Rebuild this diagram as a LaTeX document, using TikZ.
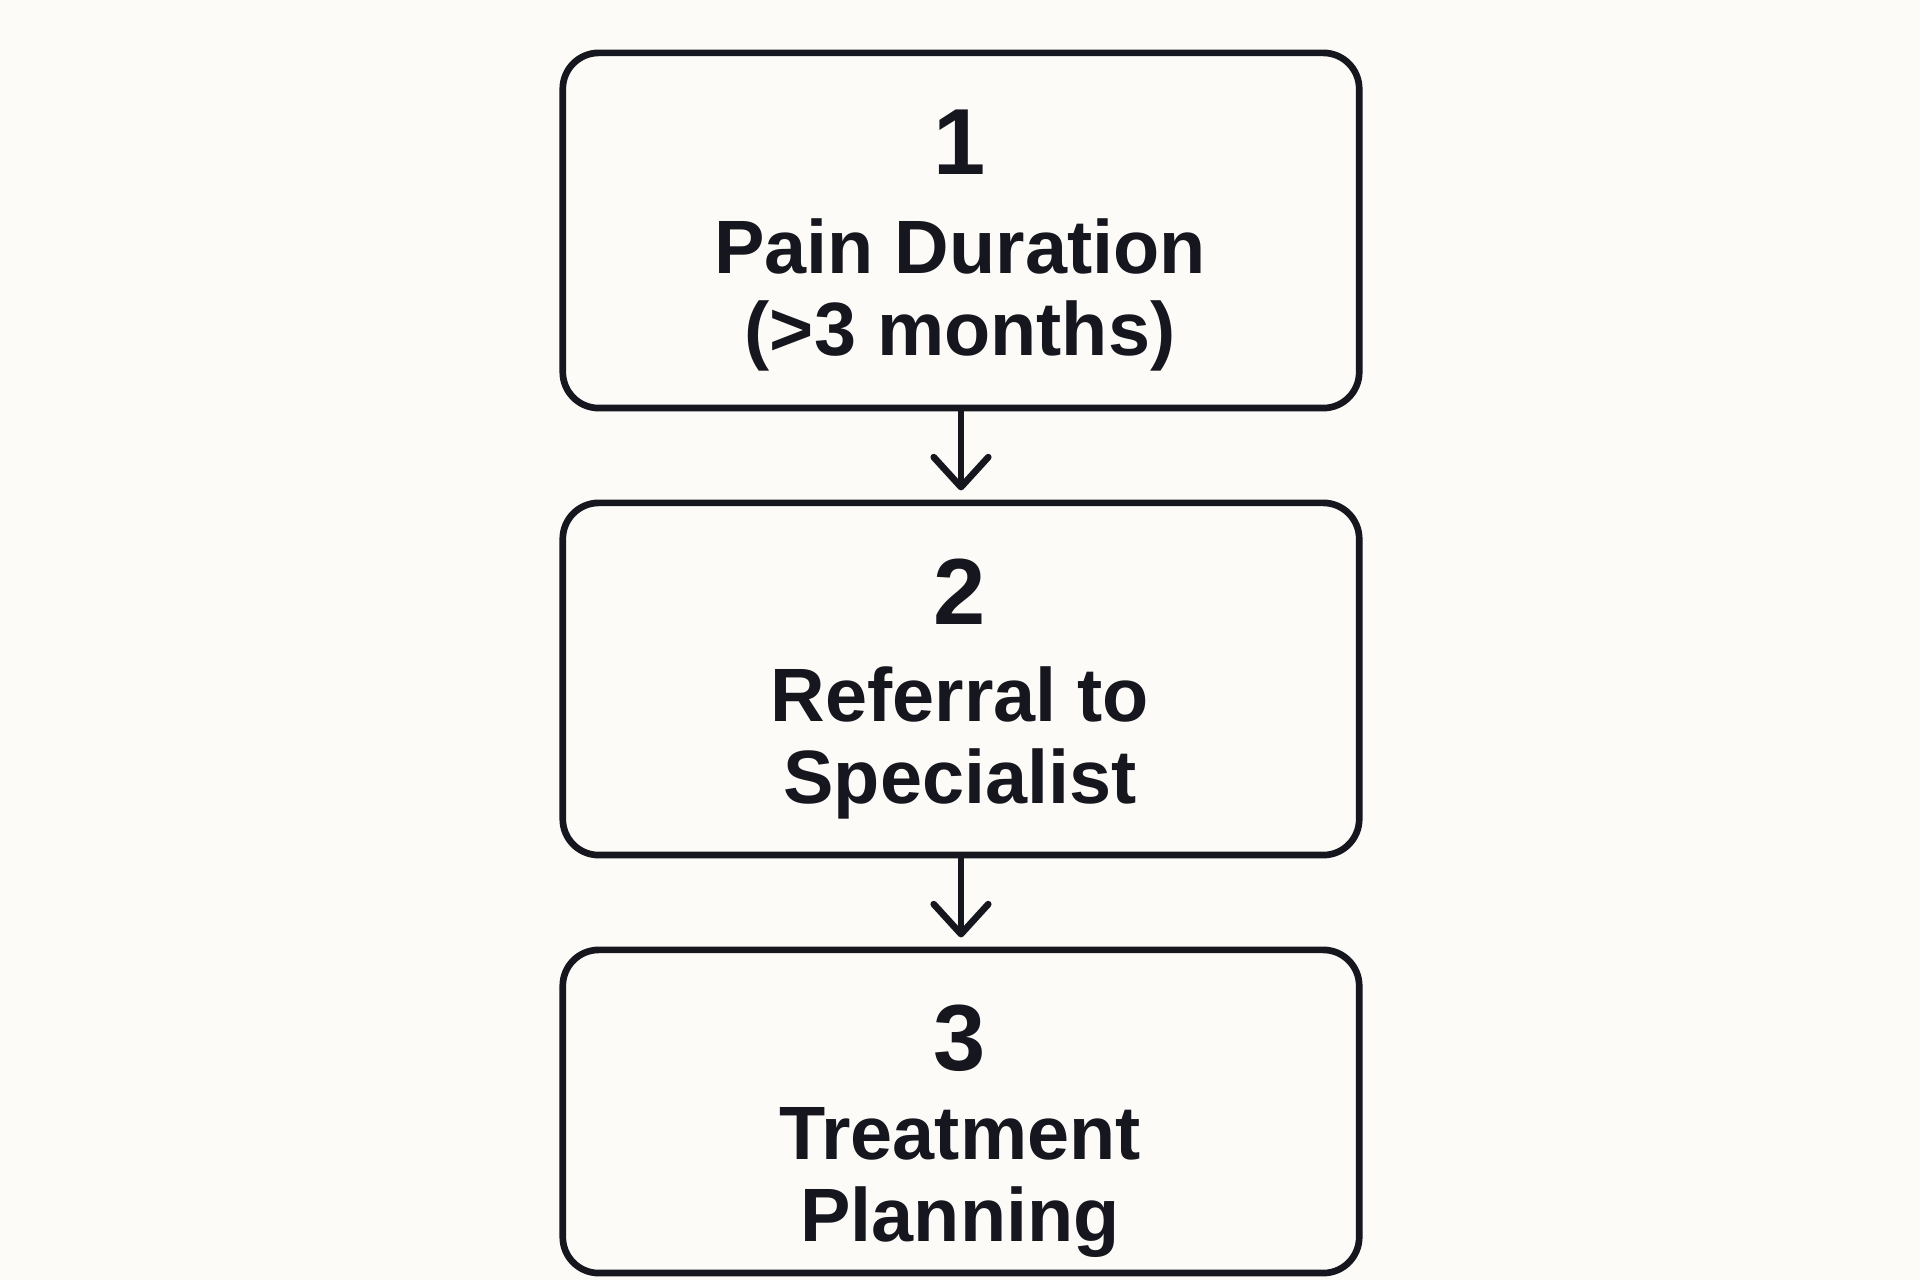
\documentclass[tikz,border=0pt]{standalone}
\usepackage{fontspec}
\setmainfont{Liberation Sans}
\usetikzlibrary{arrows.meta}
\definecolor{bg}{RGB}{252,251,248}
\definecolor{ink}{RGB}{22,22,30}
\tikzset{
  stepbox/.style={draw=ink, line width=1.9pt, rounded corners=0.36cm, fill=bg,
    minimum width=7.96cm, inner sep=0pt},
  numtxt/.style={anchor=base, inner sep=0pt, text=ink, font=\bfseries\fontsize{26.7}{30}\selectfont},
  labtxt/.style={anchor=north, inner sep=0pt, align=center, text=ink, font=\bfseries\fontsize{21.5}{23.3}\selectfont},
  flow/.style={draw=ink, line width=1.9pt, line cap=round,
    -{Straight Barb[length=8.5pt,width=15.5pt,round,line width=1.9pt]}, shorten >=2.6pt}
}
\begin{document}
\begin{tikzpicture}[x=0.01cm,y=-0.01cm]
\fill[bg] (0,0) rectangle (1920,1280);
\useasboundingbox (0,0) rectangle (1920,1280);

\node[stepbox, minimum height=3.55cm] (b1) at (961,230.5) {};
\node[stepbox, minimum height=3.52cm] (b2) at (961,679) {};
\node[stepbox, minimum height=3.23cm] (b3) at (961,1111.5) {};

\node[numtxt] (n1) at (960,175) {1};
\node[labtxt] (t1) at (960,218) {Pain Duration\\(>3 months)};
\node[numtxt] (n2) at (960,625) {2};
\node[labtxt] (t2) at (960,666) {Referral to\\Specialist};
\node[numtxt] (n3) at (960,1071) {3};
\node[labtxt] (t3) at (960,1107) {Treatment\\Planning};

\draw[flow] (b1.south) -- (b2.north);
\draw[flow] (b2.south) -- (b3.north);
\end{tikzpicture}
\end{document}
